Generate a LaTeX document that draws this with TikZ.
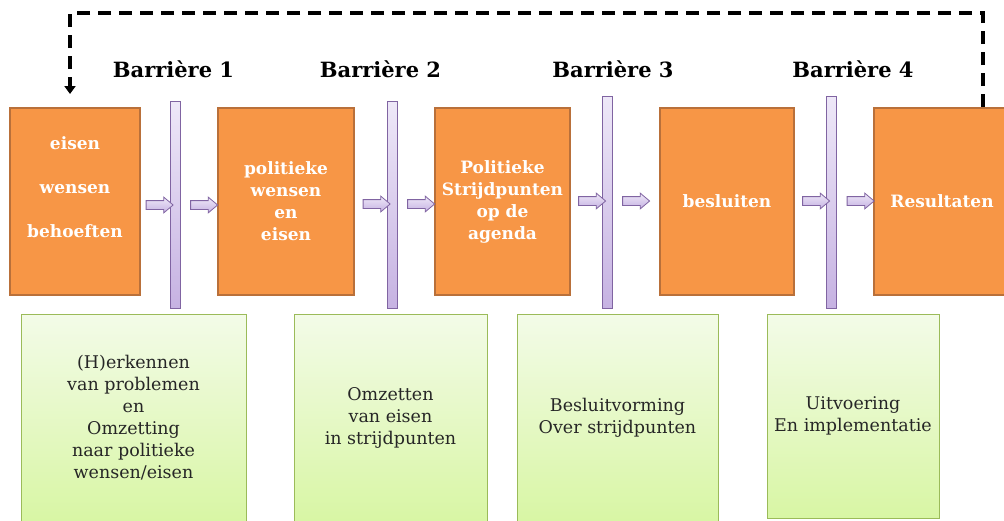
\documentclass[tikz,border=0pt]{standalone}
\usepackage{fontspec}
\setmainfont{DejaVu Serif}
\usetikzlibrary{shapes.arrows, arrows.meta, calc}
\definecolor{oranje}{HTML}{F79646}
\definecolor{oranjerand}{HTML}{B9703A}
\definecolor{paars}{HTML}{8064A2}
\definecolor{paarslicht}{HTML}{EEE8F8}
\definecolor{paarsdonker}{HTML}{C6B2E2}
\definecolor{groen}{HTML}{9BBB59}
\definecolor{groenlicht}{HTML}{F3FBE8}
\definecolor{groendonker}{HTML}{D8F6A4}

\begin{document}
\begin{tikzpicture}[x=1pt, y=-1pt,
    stap/.style={rectangle, draw=oranjerand, line width=2pt, fill=oranje, text=white,
        inner sep=0pt, minimum height=187pt, align=center,
        font=\fontsize{17}{22}\selectfont\bfseries},
    barriere/.style={rectangle, draw=paars, line width=0.8pt, top color=paarslicht,
        bottom color=paarsdonker, inner sep=0pt, minimum width=10pt},
    pijl/.style={single arrow, draw=paars, line width=0.8pt, top color=paarslicht,
        bottom color=paarsdonker, inner xsep=0pt, inner ysep=4pt, minimum height=27pt,
        minimum width=15pt, single arrow head extend=3.5pt, single arrow tip angle=80},
    taak/.style={rectangle, draw=groen, line width=1pt, top color=groenlicht,
        bottom color=groendonker, text=black!85, inner sep=0pt, align=center,
        font=\fontsize{17.5}{22}\selectfont}]
    \useasboundingbox (0,0) rectangle (1004,520);
    % Stappen
    \node[stap, minimum width=130pt] (eisen) at (75,201.5) {eisen\\[22pt]wensen\\[22pt]behoeften\\\strut};
    \node[stap, minimum width=136pt] (wensen) at (286,201.5) {politieke\\wensen\\en\\eisen};
    \node[stap, minimum width=135pt] (agenda) at (502.5,201.5) {Politieke\\Strijdpunten\\op de\\agenda};
    \node[stap, minimum width=134pt] (besluiten) at (727,201.5) {besluiten};
    \node[stap, minimum width=136pt] (resultaten) at (942,201.5) {Resultaten};
    % Barrieres
    \foreach \x/\ytop/\lx/\i in {175.5/101/173.5/1, 392.5/101/380.5/2, 607.5/96/613/3, 831.5/96/853/4} {
        \node[barriere, minimum height={308-\ytop}] (b\i) at (\x,{(308+\ytop)/2}) {};
        \node[font=\fontsize{21}{25}\selectfont\bfseries, anchor=base] (lb\i) at (\lx,77) {Barrière \i};
    }
    % Pijlen
    \foreach \x/\y [count=\n] in {157/205, 201.5/205, 374/204, 418.5/204, 589.5/201, 633.5/201, 813.5/201, 858/201}
        \node[pijl] (p\n) at (\x,\y) {};
    % Taken
    \node[taak, minimum width=225pt, minimum height=208pt] (herkennen) at (133.5,418)
        {(H)erkennen\\van problemen\\en\\Omzetting\\naar politieke\\wensen/eisen};
    \node[taak, minimum width=193pt, minimum height=208pt] (omzetten) at (390.5,418)
        {Omzetten\\van eisen\\in strijdpunten};
    \node[taak, minimum width=201pt, minimum height=208pt] (besluitvorming) at (617.5,418)
        {Besluitvorming\\Over strijdpunten};
    \node[taak, minimum width=172pt, minimum height=204pt] (uitvoering) at (853,416)
        {Uitvoering\\En implementatie};
    % Terugkoppeling
    \coordinate (hoekR) at (983,13);
    \coordinate (hoekL) at (70,13);
    \draw[line width=3.5pt, dash pattern=on 13pt off 8pt, shorten >=13pt,
        -{Triangle[width=11pt,length=8pt]}]
        (resultaten.north -| hoekR) -- (hoekR) -- (hoekL) -- (eisen.north -| hoekL);
\end{tikzpicture}
\end{document}
